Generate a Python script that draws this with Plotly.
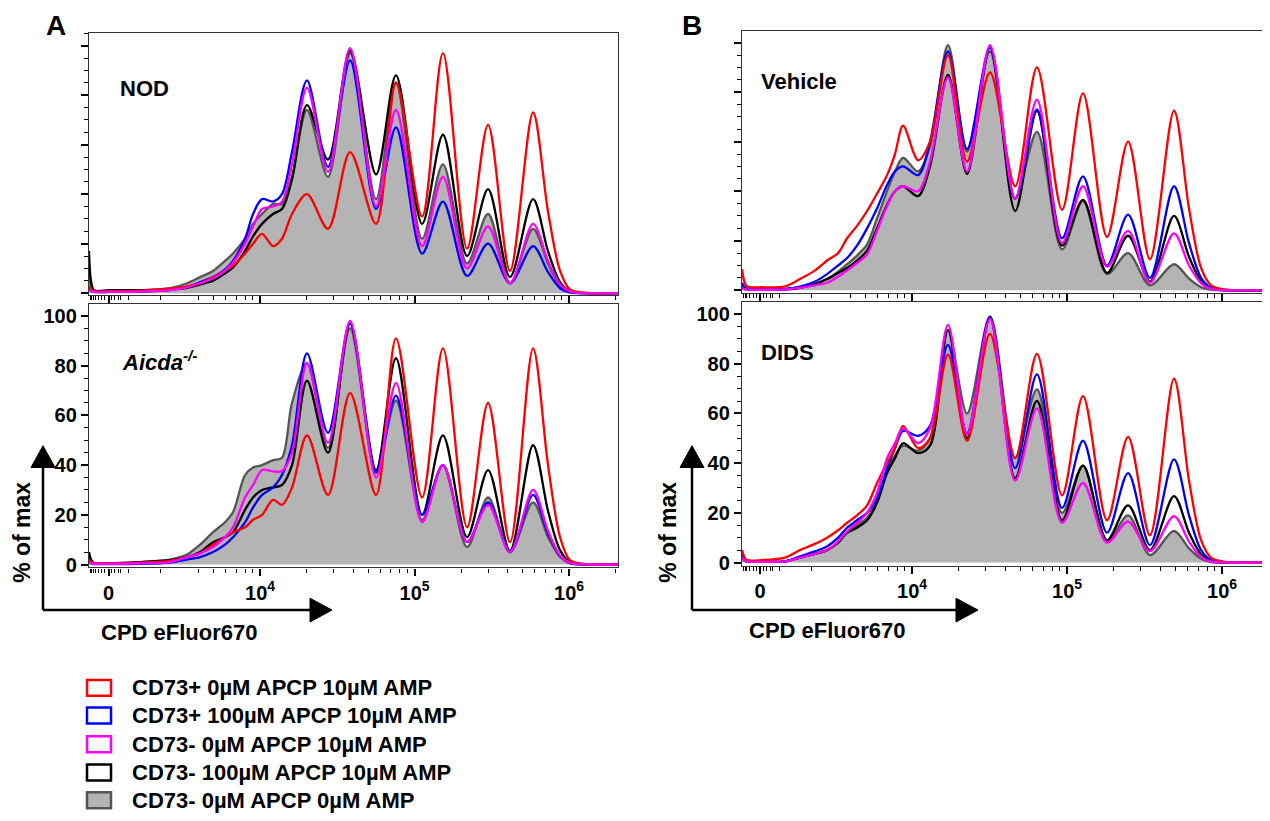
import plotly.graph_objects as go

W, H = 1270, 821
OFF = 8  # page body margin in the browser
FONT = "Liberation Sans, Arial, sans-serif"

series_names = ["CD73+ 0µM APCP 10µM AMP", "CD73+ 100µM APCP 10µM AMP",
                "CD73- 0µM APCP 10µM AMP", "CD73- 100µM APCP 10µM AMP",
                "CD73- 0µM APCP 0µM AMP"]
series_colors = ["#ff0000", "#0000ff", "#ff00ff", "#000000", "#555555"]
grey_fill = "#b4b4b4"

# x positions: log10 of CPD eFluor670 intensity (display scale)
x_A = [2.893, 2.906, 2.926, 3.029, 3.223, 3.417, 3.528, 3.612, 3.696, 3.773, 3.825,
       3.903, 3.955, 4.013, 4.084, 4.142, 4.207, 4.304, 4.440, 4.583, 4.751, 4.880,
       5.049, 5.184, 5.340, 5.476, 5.618, 5.767, 5.864, 5.942, 6.006, 6.104, 6.317]
x_B = [2.903, 2.916, 2.935, 3.032, 3.181, 3.277, 3.374, 3.452, 3.523, 3.581, 3.645,
       3.710, 3.774, 3.839, 3.890, 3.942, 4.039, 4.116, 4.232, 4.355, 4.503, 4.665,
       4.806, 4.968, 5.103, 5.258, 5.394, 5.535, 5.690, 5.787, 5.865, 5.929, 6.019, 6.303]

# % of max — NOD
nod_red = [3, 1.5, 0.8, 0.8, 1.0, 1.8, 2.8, 4, 6.4, 9, 11, 16, 20, 24, 19, 22, 32, 40, 26, 57,
           28, 85, 31, 97, 18, 68, 9, 73, 33, 9, 1.5, 0.2, 0]
nod_blue = [2, 1, 0.5, 0.5, 0.6, 1.2, 2.5, 4.5, 6.5, 9.5, 13, 22, 32, 38, 37, 40, 57, 86, 51, 94,
            34, 67, 16, 37, 7, 20, 4, 19, 8.5, 2, 0.3, 0, 0]
nod_magenta = [1.5, 0.8, 0.5, 0.5, 0.6, 1.2, 2.4, 4, 6, 9, 12.4, 20, 27, 34, 35, 37, 52, 83, 49, 99,
               35, 74, 19, 47, 10, 27, 4, 28, 13, 3.5, 0.7, 0, 0]
nod_black = [17, 5, 1.2, 1.2, 1.2, 1.5, 2.2, 3.5, 5, 8, 10.4, 17, 23, 28, 32, 34, 46, 76, 54, 98,
             48, 88, 28, 64, 15, 42, 6.5, 38, 17, 4.5, 0.8, 0, 0]
nod_grey = [9, 3, 1, 1, 1.2, 2, 4, 6.5, 9, 13, 16, 22, 28, 32, 36, 36, 47, 74, 47, 97,
            38, 85, 22, 52, 12, 32, 4, 26, 12, 3, 0.5, 0, 0]

# % of max — Aicda-/-
aic_red = [2, 1, 0.5, 0.5, 0.8, 1.5, 3, 4.5, 8, 11, 13, 15, 18, 20, 26, 24, 31, 52, 28, 69,
           28, 91, 27, 87, 15, 65, 9, 87, 40, 11, 1.8, 0.2, 0]
aic_blue = [1, 0.5, 0.2, 0.2, 0.3, 0.8, 2, 3, 5, 8, 11, 17, 23, 28, 31, 36, 48, 85, 53, 97,
            37, 68, 20, 40, 9, 25, 5, 28, 12.6, 3.4, 0.5, 0, 0]
aic_magenta = [1, 0.5, 0.3, 0.3, 0.5, 1, 3, 4.5, 7, 11, 15, 27, 32, 38, 37.5, 37.6, 45, 81, 49, 98,
               35, 73, 17, 40, 9, 24, 5, 30, 13.5, 3.6, 0.6, 0, 0]
aic_black = [5, 2, 0.5, 0.5, 1, 1.8, 3, 5, 9, 11, 13, 22, 27, 30, 31, 32, 40, 74, 45, 97,
             38, 83, 20, 52, 11, 38, 5.5, 48, 21.6, 5.8, 1, 0, 0]
aic_grey = [4, 1.5, 0.5, 0.5, 1, 2, 4, 8, 13, 17, 21, 36, 39, 40, 42, 43, 65, 81, 47, 95,
            37, 66, 18, 40, 7, 27, 5, 25, 11, 3, 0.5, 0, 0]

# % of max — Vehicle
veh_red = [8.5, 4, 1.5, 1.2, 1.6, 4.5, 8, 12, 15, 21, 26, 32, 39, 46.5, 55, 66.5, 52.5, 60, 95,
           52, 88, 42, 90, 32.5, 79.5, 21.5, 60, 12.5, 72.5, 33, 9, 2, 0.3, 0]
veh_blue = [3, 1.5, 0.6, 0.3, 0.5, 1.5, 3.5, 6.5, 10, 13, 18, 25, 33, 42.5, 48, 50, 46.5, 60, 96.5,
            57, 98, 37, 73, 21, 46, 10, 30.5, 5, 42, 19, 5, 1, 0, 0]
veh_magenta = [1, 0.5, 0.2, 0.2, 0.3, 1, 2, 3, 5.5, 8, 11, 14.5, 24, 34, 40, 42, 40, 52, 86,
               48, 99, 37, 77, 19, 42, 9.5, 24, 3, 23, 10, 2.8, 0.5, 0, 0]
veh_black = [1.5, 0.7, 0.3, 0.3, 0.4, 1, 2.5, 4.5, 7, 9, 12, 16, 25, 34.5, 40, 42, 38, 50, 87,
             47, 98, 32, 72.5, 18, 36.5, 7, 22, 3.5, 30, 13.5, 3.6, 0.6, 0, 0]
veh_grey = [1.5, 0.7, 0.3, 0.3, 0.4, 1, 2.5, 4.5, 7.5, 10.5, 14, 18.5, 29, 40, 48, 53.5, 48, 58, 99,
            56, 96.5, 37, 64, 16.5, 36, 6.5, 15, 2, 10.5, 4.7, 1.2, 0.2, 0, 0]

# % of max — DIDS
dids_red = [5, 2.5, 1, 1, 2, 5, 7.5, 10, 13, 16, 19, 23, 32, 40, 46, 55, 46, 50, 83.7,
            49, 92, 42, 84, 27, 67, 17, 50.6, 11, 74, 33, 9, 2, 0.3, 0]
dids_blue = [3, 1.5, 0.6, 0.3, 0.5, 2.5, 4.5, 6.5, 10, 14, 17, 20, 26, 38, 46, 53, 51, 55, 87.6,
             52, 98.6, 38, 75.7, 22, 49, 12, 36, 7, 41.5, 19, 5, 1, 0, 0]
dids_magenta = [2, 1, 0.4, 0.3, 0.5, 2, 3.5, 5, 8.5, 12.5, 16, 20, 28, 42, 48, 54, 48, 54, 95.6,
                51.6, 98, 33, 62, 16, 32, 8, 16.5, 4.5, 18.7, 8.4, 2.2, 0.4, 0, 0]
dids_black = [2, 1, 0.4, 0.3, 0.5, 2, 3.5, 5, 8, 12, 14, 17, 24, 36, 42, 48, 44, 47, 93.6,
              50, 98.6, 34, 65, 17, 39, 9, 23, 5, 26.7, 12, 3.2, 0.5, 0, 0]
dids_grey = [2, 1, 0.4, 0.3, 0.5, 2, 3.5, 5, 8, 12, 15, 18, 25, 37, 43, 47, 45, 50, 93.6,
             60, 99, 42, 69.7, 20, 39, 8.5, 19, 3, 12.7, 5.7, 1.5, 0.2, 0, 0]

panel_titles = ["NOD", "<i>Aicda</i><sup><i>-/-</i></sup>", "Vehicle", "DIDS"]
x_tick_vals = [3.02, 4, 5, 6]
x_tick_text = ["0", "10<sup>4</sup>", "10<sup>5</sup>", "10<sup>6</sup>"]
x_minor_vals = [2.90, 2.912, 2.925, 2.932, 2.953, 2.975, 2.995, 3.02, 3.04, 3.06, 3.085, 3.10,
                3.146, 3.353, 3.602, 3.699, 3.778, 3.845, 3.903, 3.954,
                4.301, 4.477, 4.602, 4.699, 4.778, 4.845, 4.903, 4.954,
                5.301, 5.477, 5.602, 5.699, 5.778, 5.845, 5.903, 5.954, 6.301]
y_tick_vals = [0, 20, 40, 60, 80, 100]

def px(x):
    return (x - OFF) / W

def py(y):
    return 1 - (y - OFF) / H

panels = [
    (x_A, [nod_red, nod_blue, nod_magenta, nod_black, nod_grey], (89, 618), (33, 298), [2.893, 6.317], [-0.8, 105.2], False),
    (x_A, [aic_red, aic_blue, aic_magenta, aic_black, aic_grey], (89, 618), (307, 573), [2.893, 6.317], [-1.2, 104.8], True),
    (x_B, [veh_red, veh_blue, veh_magenta, veh_black, veh_grey], (742, 1269), (31, 296), [2.903, 6.303], [-1.2, 104.8], False),
    (x_B, [dids_red, dids_blue, dids_magenta, dids_black, dids_grey], (742, 1269), (305, 571), [2.903, 6.303], [-1.2, 104.8], True),
]

fig = go.Figure()
draw_order = [4, 3, 1, 0, 2]
for i, (xs, ys, xd, yd, xr, yr, bottom) in enumerate(panels):
    n = i + 1
    xa = "x" if n == 1 else f"x{n}"
    ya = "y" if n == 1 else f"y{n}"
    for k in draw_order:
        is_grey = k == 4
        fig.add_trace(go.Scatter(
            x=xs, y=ys[k], mode="lines", name=series_names[k],
            line=dict(color=series_colors[k], width=2.3, shape="spline", smoothing=0.9),
            fill="tozeroy" if is_grey else None,
            fillcolor=grey_fill if is_grey else None,
            showlegend=False, xaxis=xa, yaxis=ya, hoverinfo="skip"))
    xkey = "xaxis" if n == 1 else f"xaxis{n}"
    ykey = "yaxis" if n == 1 else f"yaxis{n}"
    fig.layout[xkey] = dict(
        domain=[px(xd[0]), px(xd[1])], range=xr, anchor=ya,
        showgrid=False, zeroline=False, showline=True, mirror=True,
        linecolor="#333333", linewidth=1.3,
        tickmode="array", tickvals=x_tick_vals, ticktext=x_tick_text,
        showticklabels=bottom, ticks="outside", ticklen=7, tickwidth=1.5, tickcolor="#000",
        tickfont=dict(family=FONT, size=20, color="#000", weight="bold"),
        minor=dict(tickmode="array", tickvals=x_minor_vals, ticks="outside",
                   ticklen=4, tickwidth=1.2, tickcolor="#000"))
    fig.layout[ykey] = dict(
        domain=[py(yd[1]), py(yd[0])], range=yr, anchor=xa,
        showgrid=False, zeroline=False, showline=True, mirror=True,
        linecolor="#333333", linewidth=1.3,
        tickmode="array", tickvals=y_tick_vals,
        showticklabels=bottom, ticks="outside", ticklen=7, tickwidth=1.5, tickcolor="#000",
        tickfont=dict(family=FONT, size=20, color="#000", weight="bold"),
        minor=dict(dtick=5, ticks="outside", ticklen=4, tickwidth=1.2, tickcolor="#000"))

annotations = []
def txt(x, y, text, size, xanchor="center", yanchor="middle", angle=0):
    annotations.append(dict(x=px(x), y=py(y), xref="paper", yref="paper", text=text,
                            showarrow=False, xanchor=xanchor, yanchor=yanchor, textangle=angle,
                            font=dict(family=FONT, size=size, color="#000", weight="bold")))

txt(56, 8.5, "A", 28, yanchor="top")
txt(692, 8.5, "B", 28, yanchor="top")
title_pos = [(118, 89), (120, 364), (759, 82), (759, 356)]
for (tx, ty), t in zip(title_pos, panel_titles):
    txt(tx, ty, t, 22, xanchor="left")
txt(22, 538, "% of max", 23, angle=-90)
txt(668, 538, "% of max", 23, angle=-90)
txt(179, 639, "CPD eFluor670", 22)
txt(827, 637, "CPD eFluor670", 22)

shapes = []
def line(x0, y0, x1, y1):
    shapes.append(dict(type="line", xref="paper", yref="paper", x0=px(x0), y0=py(y0),
                       x1=px(x1), y1=py(y1), line=dict(color="#000", width=2.5)))
def tri(points):
    path = "M " + " L ".join(f"{px(a)},{py(b)}" for a, b in points) + " Z"
    shapes.append(dict(type="path", xref="paper", yref="paper", path=path,
                       fillcolor="#000", line=dict(color="#000", width=1)))

for ax0, axh in [(43, 312), (692, 958)]:
    line(ax0, 616, ax0, 468)
    tri([(ax0 - 12, 472), (ax0 + 12, 472), (ax0, 450)])
    line(ax0, 616, axh, 616)
    tri([(axh - 2, 604), (axh - 2, 628), (axh + 20, 616)])

# legend
row_y = [694.5, 722.5, 751.5, 780, 808]
for k, yy in enumerate(row_y):
    shapes.append(dict(type="rect", xref="paper", yref="paper",
                       x0=px(87), x1=px(111), y0=py(yy + 8), y1=py(yy - 8),
                       line=dict(color=series_colors[k], width=2.5),
                       fillcolor=grey_fill if k == 4 else "rgba(0,0,0,0)"))
    txt(130, yy, series_names[k], 22, xanchor="left")

fig.update_layout(width=W, height=H, margin=dict(l=0, r=0, t=0, b=0),
                  paper_bgcolor="white", plot_bgcolor="white",
                  annotations=annotations, shapes=shapes, showlegend=False)
fig.write_html("out.html")
